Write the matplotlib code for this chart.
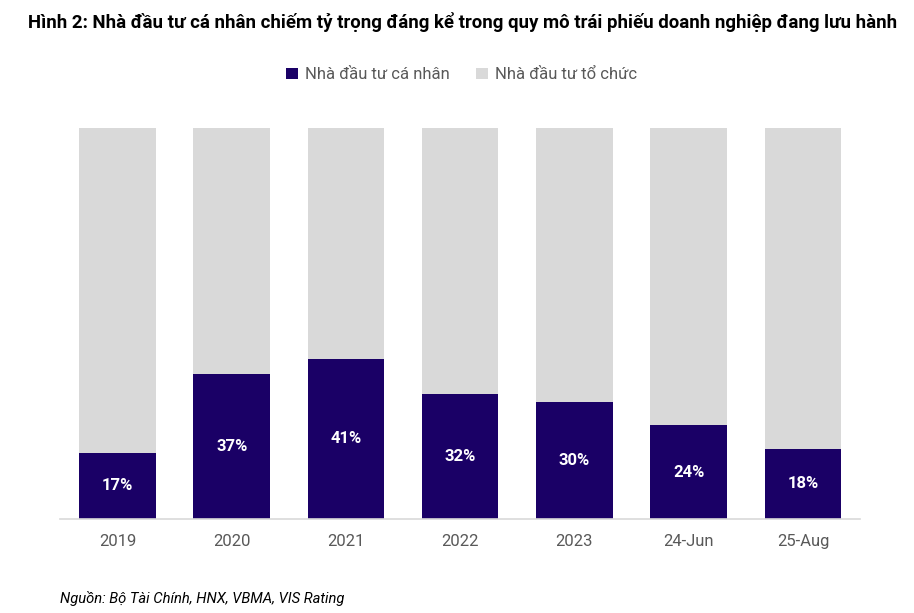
import numpy as np
import matplotlib.pyplot as plt
import matplotlib as mpl

mpl.rcParams.update({"font.family": ["Roboto", "DejaVu Sans"]})

categories = ["2019", "2020", "2021", "2022", "2023", "24-Jun", "25-Aug"]
retail = [17, 37, 41, 32, 30, 24, 18]
institutional = [100 - v for v in retail]

navy = "#1A0066"
gray = "#D9D9D9"

fig = plt.figure(figsize=(9.14, 6.13), dpi=100)
ax = fig.add_axes([0.066, 0.1533, 0.875, 0.638])
x = np.arange(len(categories))
ax.bar(x, retail, width=0.67, color=navy, label="Nhà đầu tư cá nhân")
ax.bar(x, institutional, width=0.67, bottom=retail, color=gray,
       label="Nhà đầu tư tổ chức")
for xi, v in zip(x, retail):
    ax.text(xi, v / 2, f"{v}%", ha="center", va="center", color="white",
            fontsize=12, fontweight="bold")

ax.set_xlim(-0.5, 6.5)
ax.set_ylim(0, 100)
ax.set_xticks(x)
ax.set_xticklabels(categories, fontsize=12, color="#595959")
ax.tick_params(axis="x", length=0, pad=10.5)
ax.set_yticks([])
for s in ["top", "right", "left"]:
    ax.spines[s].set_visible(False)
ax.spines["bottom"].set_color("#D9D9D9")
ax.spines["bottom"].set_linewidth(1.2)

fig.legend(loc="center", bbox_to_anchor=(0.505, 0.878), ncol=2, frameon=False,
           fontsize=12, handlelength=0.7, handleheight=0.7, columnspacing=1.6,
           handletextpad=0.4, labelcolor="#595959")

fig.text(0.031, 0.964, "Hình 2: Nhà đầu tư cá nhân chiếm tỷ trọng đáng kể trong quy mô trái phiếu doanh nghiệp đang lưu hành",
         ha="left", va="center", fontsize=13.4, fontweight="bold")
fig.text(0.066, 0.023, "Nguồn: Bộ Tài Chính, HNX, VBMA, VIS Rating", ha="left", va="center",
         fontsize=10.6, style="italic")

plt.savefig("out.png", dpi=100)
